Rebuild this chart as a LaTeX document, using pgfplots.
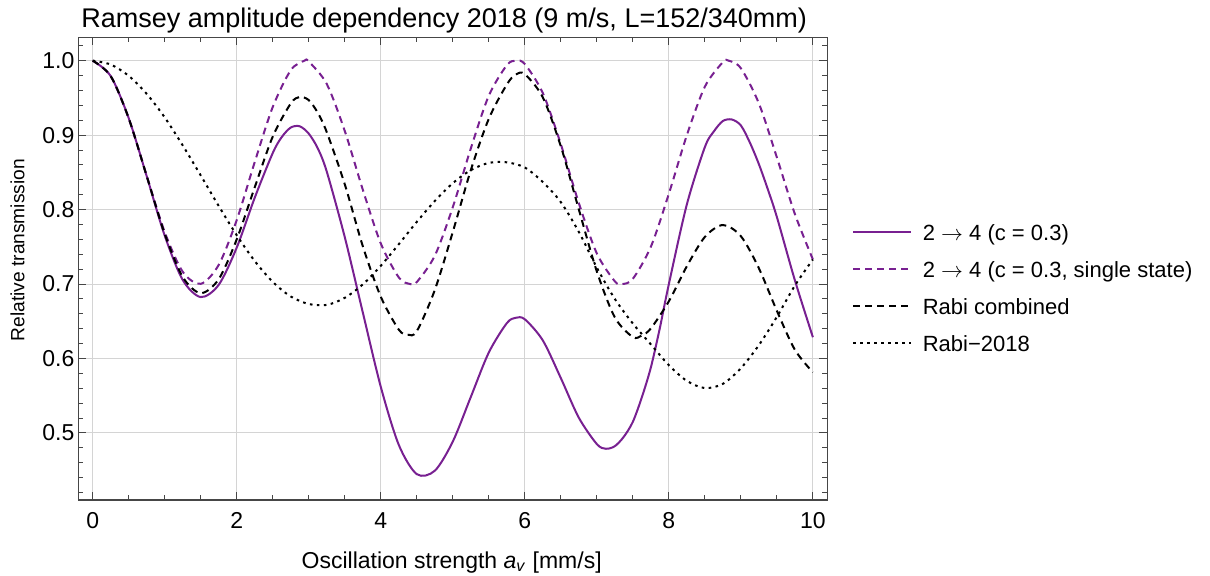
\documentclass[border=0pt]{standalone}
\usepackage{fontspec}
\setmainfont{Liberation Sans}
\usepackage{pgfplots}
\pgfplotsset{compat=1.18}
\definecolor{purp}{RGB}{120,32,145}
\definecolor{framegray}{RGB}{70,70,70}
\definecolor{gridgray}{RGB}{212,212,212}
\begin{document}
\begin{tikzpicture}
\path[use as bounding box] (-39.15pt,-38pt) rectangle (565.85pt,250pt);
\begin{axis}[
  at={(0pt,0pt)}, anchor=south west, scale only axis,
  width=374.5pt, height=231.35pt,
  xmin=-0.2, xmax=10.2, ymin=0.41, ymax=1.0314,
  xtick={0,2,4,6,8,10},
  ytick={0.5,0.6,0.7,0.8,0.9,1.0},
  minor xtick={0.5,1,1.5,2.5,3,3.5,4.5,5,5.5,6.5,7,7.5,8.5,9,9.5},
  minor ytick={0.42,0.44,0.46,0.48,0.52,0.54,0.56,0.58,0.62,0.64,0.66,0.68,0.72,0.74,0.76,0.78,0.82,0.84,0.86,0.88,0.92,0.94,0.96,0.98,1.02},
  xtick pos=both, ytick pos=both,
  xticklabel pos=lower, yticklabel pos=left,
  tick align=inside,
  major tick length=4pt, minor tick length=2.5pt,
  tick style={framegray, line width=0.5pt},
  axis line style={framegray, line width=0.6pt},
  xmajorgrids, ymajorgrids,
  major grid style={gridgray, line width=0.5pt},
  /pgf/number format/assume math mode=true,
  yticklabel style={/pgf/number format/fixed, /pgf/number format/fixed zerofill, /pgf/number format/precision=1, xshift=-1.8pt},
  ticklabel style={font=\fontsize{11.5}{13}\selectfont, inner sep=0pt},
  xticklabel style={yshift=-6pt},
  title={Ramsey amplitude dependency 2018 (9 m/s, L=152/340mm)},
  title style={at={(axis description cs:0.4884,1.0229)}, anchor=base, yshift=-6.35pt, font=\fontsize{13.5}{15}\selectfont, inner sep=0pt},
  xlabel={Oscillation strength \textit{a}\textsubscript{\textit{v}} [mm/s]},
  xlabel style={at={(axis description cs:0.4985,-0.147)}, anchor=base, font=\fontsize{11.5}{13}\selectfont, inner sep=0pt},
  ylabel={Relative transmission},
  ylabel style={at={(axis description cs:-0.0812,0.540)}, anchor=center, font=\fontsize{9.6}{11}\selectfont, inner sep=0pt},
  legend cell align=left,
  legend style={at={(axis description cs:1.0330,0.4593)}, anchor=west, draw=none, fill=none,
    inner sep=0pt, row sep=0pt, column sep=5.2pt,
    font=\fontsize{11}{13}\selectfont,
    nodes={inner sep=0pt, text height=13.55pt, text depth=4.95pt}},
  legend image code/.code={\draw[#1] (0pt,0pt) -- (29pt,0pt);},
  every axis plot/.append style={line width=1pt},
]
\addplot[purp, smooth, solid] coordinates {
(0,1.0) (0.25,0.9793) (0.5,0.9228) (0.75,0.8448) (1.0,0.765) (1.25,0.7055) (1.5,0.6825) (1.75,0.699)
(2.0,0.749) (2.25,0.816) (2.5,0.876) (2.625,0.8974) (2.75,0.9102) (2.875,0.9119) (3.0,0.902)
(3.125,0.8823) (3.25,0.851) (3.5,0.763) (3.75,0.662) (4.0,0.562) (4.25,0.484) (4.5,0.4447)
(4.75,0.4493) (5.0,0.4885) (5.25,0.5484) (5.5,0.6081) (5.75,0.6475) (5.875,0.6547) (6.0,0.6527)
(6.25,0.6243) (6.5,0.5737) (6.75,0.5205) (7.0,0.4851) (7.125,0.4788) (7.25,0.4823) (7.375,0.495)
(7.5,0.515) (7.625,0.548) (7.75,0.588) (7.875,0.641) (8.0,0.700) (8.25,0.807) (8.5,0.884)
(8.625,0.905) (8.75,0.919) (8.875,0.921) (9.0,0.913) (9.125,0.890) (9.25,0.861) (9.375,0.827)
(9.5,0.790) (9.75,0.705) (10.0,0.6286)};
\addlegendentry{2 $\rightarrow$ 4 (c = 0.3)}
\addplot[purp, smooth, dash pattern=on 3.5pt off 2.5pt] coordinates {
(0,1.0) (0.25,0.9791) (0.5,0.9223) (0.75,0.8453) (1.0,0.7698) (1.25,0.7165) (1.5,0.7003) (1.75,0.7258)
(2.0,0.7860) (2.25,0.8639) (2.5,0.9378) (2.75,0.9872) (2.94,1.0) (3.0,0.9988) (3.25,0.9687) (3.5,0.9056)
(3.75,0.8268) (4.0,0.7546) (4.25,0.7089) (4.41,0.700) (4.5,0.7027) (4.75,0.7380) (5.0,0.8033)
(5.25,0.8821) (5.5,0.9530) (5.75,0.9939) (5.88,1.0) (6.0,0.9954) (6.25,0.9565) (6.5,0.8878)
(6.75,0.8087) (7.0,0.7411) (7.25,0.7037) (7.35,0.700) (7.5,0.7071) (7.75,0.7501) (8.0,0.8213)
(8.25,0.9000) (8.5,0.9651) (8.75,0.9980) (8.83,1.0) (9.0,0.9898) (9.25,0.9426) (9.5,0.8700)
(9.75,0.7940) (10.0,0.7330)};
\addlegendentry{2 $\rightarrow$ 4 (c = 0.3, single state)}
\addplot[black, smooth, dash pattern=on 3.5pt off 2.5pt] coordinates {
(0,1.0) (0.25,0.9793) (0.5,0.9227) (0.75,0.845) (1.0,0.7674) (1.25,0.7095) (1.5,0.6878) (1.75,0.7066)
(2.0,0.7601) (2.25,0.830) (2.5,0.898) (2.75,0.9425) (2.875,0.9513) (3.0,0.947) (3.125,0.930)
(3.25,0.904) (3.5,0.834) (3.75,0.751) (4.0,0.683) (4.25,0.6388) (4.375,0.632) (4.5,0.6367)
(4.75,0.692) (5.0,0.770) (5.25,0.853) (5.5,0.922) (5.75,0.968) (5.875,0.9815) (6.0,0.9818)
(6.25,0.9507) (6.5,0.885) (6.75,0.8002) (7.0,0.7169) (7.25,0.6552) (7.5,0.6288) (7.625,0.631)
(7.75,0.6404) (8.0,0.6769) (8.25,0.724) (8.5,0.7633) (8.75,0.7793) (9.0,0.7643) (9.25,0.7212)
(9.5,0.664) (9.75,0.6117) (10.0,0.5815)};
\addlegendentry{Rabi combined}
\addplot[black, smooth, dash pattern=on 1.3pt off 2.2pt] coordinates {
(0,1.0) (0.25,0.9948) (0.5,0.9796) (0.75,0.9554) (1.0,0.9238) (1.25,0.8862) (1.5,0.8459) (1.75,0.8048)
(2.0,0.7656) (2.25,0.7309) (2.5,0.7029) (2.75,0.6833) (3.0,0.6732) (3.25,0.6720)
(3.5,0.6815) (3.75,0.6995) (4.0,0.7245) (4.25,0.7535) (4.5,0.7835) (4.75,0.8115) (5.0,0.8355)
(5.25,0.8530) (5.5,0.8627) (5.75,0.8635) (6.0,0.8565) (6.25,0.837) (6.5,0.810)
(6.75,0.770) (7.0,0.722) (7.25,0.680) (7.5,0.647) (7.75,0.619) (8.0,0.591) (8.25,0.570) (8.5,0.5603)
(8.75,0.566) (9.0,0.587) (9.25,0.618) (9.5,0.656) (9.75,0.698) (10.0,0.733)};
\addlegendentry{Rabi−2018}
\end{axis}
\end{tikzpicture}
\end{document}
